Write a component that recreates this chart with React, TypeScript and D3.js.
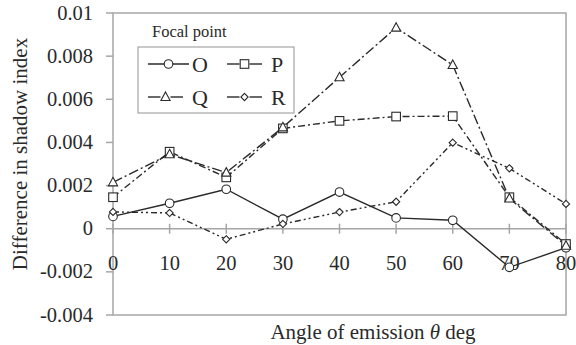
import React from "react";
import * as d3 from "d3";

const angles = [0, 10, 20, 30, 40, 50, 60, 70, 80];
const seriesO = [0.00057, 0.00118, 0.00183, 0.00044, 0.0017, 0.0005, 0.00039, -0.00179, -0.00088];
const seriesP = [0.00146, 0.00357, 0.00238, 0.00465, 0.005, 0.0052, 0.00522, 0.00146, -0.00071];
const seriesQ = [0.00215, 0.00345, 0.0026, 0.0047, 0.00702, 0.00932, 0.00759, 0.0014, -0.00079];
const seriesR = [0.00078, 0.00073, -0.00049, 0.00022, 0.00077, 0.00125, 0.00399, 0.0028, 0.00115];
const yTicks = [-0.004, -0.002, 0, 0.002, 0.004, 0.006, 0.008, 0.01];
const yTickLabels = ["-0.004", "-0.002", "0", "0.002", "0.004", "0.006", "0.008", "0.01"];
const seriesNames = ["O", "P", "Q", "R"];

const W = 576, H = 345;
const L = 113, R = 566, T = 13, B = 315;
const FONT = "Liberation Serif";
const INK = "#2a2a2a";
const AXIS = "#a6a6a6";

type Series = { name: string; values: number[]; marker: string; dash: string };
const series: Series[] = [
  { name: seriesNames[0], values: seriesO, marker: "circle", dash: "" },
  { name: seriesNames[1], values: seriesP, marker: "square", dash: "7,3,2,3" },
  { name: seriesNames[2], values: seriesQ, marker: "triangle", dash: "10,3,2,3" },
  { name: seriesNames[3], values: seriesR, marker: "diamond", dash: "6,3,2,3,2,3" },
];

function Marker({ kind, x, y }: { kind: string; x: number; y: number }) {
  const common = { fill: "white", stroke: INK, strokeWidth: 1.1 };
  if (kind === "circle") return <circle cx={x} cy={y} r={4.3} {...common} />;
  if (kind === "square") return <rect x={x - 4.3} y={y - 4.3} width={8.6} height={8.6} {...common} />;
  if (kind === "triangle")
    return <path d={`M${x},${y - 5} L${x + 4.6},${y + 3.5} L${x - 4.6},${y + 3.5} Z`} {...common} />;
  return <path d={`M${x},${y - 3.6} L${x + 3.6},${y} L${x},${y + 3.6} L${x - 3.6},${y} Z`} {...common} />;
}

export default function App() {
  const x = d3.scaleLinear().domain([0, 80]).range([L, R]);
  const y = d3.scaleLinear().domain([-0.004, 0.01]).range([B, T]);
  const line = d3
    .line<number>()
    .x((_, i) => x(angles[i]))
    .y((d) => y(d));

  const legendPos = [
    { lx: 148, ly: 64, tx: 192 },
    { lx: 227, ly: 64, tx: 271 },
    { lx: 148, ly: 97, tx: 192 },
    { lx: 227, ly: 97, tx: 271 },
  ];

  return (
    <svg width={W} height={H} fontFamily={FONT} style={{ display: "block", position: "absolute", left: 0, top: 0 }}>
      <rect x={0} y={0} width={W} height={H} fill="white" />
      <rect x={L} y={T} width={R - L} height={B - T} fill="none" stroke={AXIS} strokeWidth={1.5} />
      <line x1={L} x2={R} y1={y(0)} y2={y(0)} stroke={AXIS} strokeWidth={1.5} />
      {yTicks.map((t, i) => (
        <line key={"ytl" + i} x1={L - 7} x2={L} y1={y(t)} y2={y(t)} stroke={AXIS} strokeWidth={1.5} />
      ))}
      {yTicks.map((t, i) => (
        <text key={"yt" + i} x={93} y={y(t) + 6.5} textAnchor="end" fontSize={20.5} fontFamily={FONT} fill={INK}>
          {yTickLabels[i]}
        </text>
      ))}
      {angles.map((a) => (
        <line key={"xtl" + a} x1={x(a)} x2={x(a)} y1={y(0) - 5} y2={y(0) + 5} stroke={AXIS} strokeWidth={1.5} />
      ))}
      {angles.map((a) => (
        <text key={"xt" + a} x={x(a)} y={270} textAnchor="middle" fontSize={20.5} fontFamily={FONT} fill={INK}>
          {a}
        </text>
      ))}
      {series.map((s) => (
        <path
          key={"l" + s.name}
          d={line(s.values) || ""}
          fill="none"
          stroke={INK}
          strokeWidth={1.4}
          strokeDasharray={s.dash}
        />
      ))}
      {series.map((s) =>
        s.values.map((v, i) => <Marker key={s.name + i} kind={s.marker} x={x(angles[i])} y={y(v)} />)
      )}
      <text x={152} y={37} fontSize={16.5} fontFamily={FONT} fill={INK}>
        Focal point
      </text>
      <rect x={138} y={47} width={156} height={66} fill="white" stroke={AXIS} strokeWidth={1.2} />
      {series.map((s, i) => {
        const p = legendPos[i];
        const len = i === 0 ? 41 : 35;
        const mx = p.lx + len / 2;
        return (
          <g key={"lg" + s.name}>
            {i === 0 ? (
              <line x1={p.lx} x2={p.lx + len} y1={p.ly} y2={p.ly} stroke={INK} strokeWidth={1.4} />
            ) : (
              <>
                <line x1={p.lx} x2={mx - 5} y1={p.ly} y2={p.ly} stroke={INK} strokeWidth={1.4} />
                <line x1={mx + 5} x2={p.lx + len} y1={p.ly} y2={p.ly} stroke={INK} strokeWidth={1.4} />
              </>
            )}
            <Marker kind={s.marker} x={mx} y={p.ly} />
          </g>
        );
      })}
      {series.map((s, i) => (
        <text key={"lt" + s.name} x={legendPos[i].tx} y={legendPos[i].ly + 7.5} fontSize={22} fontFamily={FONT} fill={INK}>
          {s.name}
        </text>
      ))}
      <text
        transform={`translate(27,${(T + B) / 2 - 10}) rotate(-90)`}
        textAnchor="middle"
        fontSize={21}
        fontFamily={FONT}
        fill={INK}
      >
        Difference in shadow index
      </text>
      <text x={373} y={339} textAnchor="middle" fontSize={21} fontFamily={FONT} fill={INK}>
        Angle of emission <tspan fontStyle="italic">θ</tspan> deg
      </text>
    </svg>
  );
}
